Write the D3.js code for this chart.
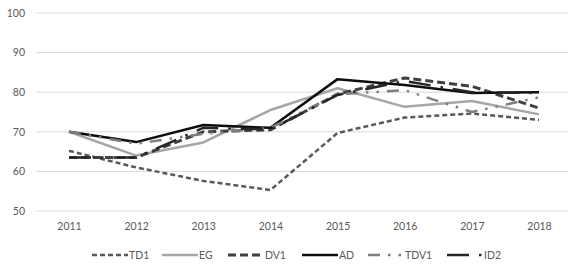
<!DOCTYPE html>
<html>
<head>
<meta charset="utf-8">
<script src="https://cdn.jsdelivr.net/npm/d3@7"></script>
<style>
  body { margin: 0; background: #fff; }
  svg { display: block; font-family: Lato, "Liberation Sans", sans-serif; }
</style>
</head>
<body>
<div id="chart"></div>
<script>
var years = ["2011", "2012", "2013", "2014", "2015", "2016", "2017", "2018"];
var yTicks = [50, 60, 70, 80, 90, 100];

var td1  = [65.2, 61.0, 57.6, 55.3, 69.7, 73.6, 74.6, 73.0];
var eg   = [70.0, 64.0, 67.3, 75.5, 81.0, 76.3, 77.8, 74.4];
var dv1  = [63.5, 63.5, 70.0, 70.5, 79.5, 83.6, 81.5, 76.0];
var ad   = [70.0, 67.4, 71.7, 71.0, 83.3, 81.8, 79.8, 80.0];
var tdv1 = [70.0, 67.0, 69.5, 71.0, 79.5, 80.5, 75.0, 78.7];
var id2  = [63.5, 63.5, 71.0, 70.6, 79.3, 82.8, 80.0, 79.8];

var seriesNames = ["TD1", "EG", "DV1", "AD", "TDV1", "ID2"];
var seriesValues = [td1, eg, dv1, ad, tdv1, id2];

// styles per series (same order as names)
var styles = [
  {color: "#595959", width: 2.5, dash: "5,3"},
  {color: "#a6a6a6", width: 2.5, dash: null},
  {color: "#404040", width: 3,   dash: "8,4"},
  {color: "#0d0d0d", width: 2.5, dash: null},
  {color: "#7f7f7f", width: 2.5, dash: "12,8,2.5,8,2.5,8"},
  {color: "#262626", width: 2.5, dash: "22,10,2.5,10"}
];

var W = 568, H = 264;
var svg = d3.select("#chart").append("svg").attr("width", W).attr("height", H);

var x = d3.scalePoint().domain(years).range([69, 539]);
var y = d3.scaleLinear().domain([50, 100]).range([211, 13]);

// gridlines
svg.append("g").selectAll("line")
  .data(yTicks).enter().append("line")
  .attr("x1", 36).attr("x2", W)
  .attr("y1", function(d) { return y(d); })
  .attr("y2", function(d) { return y(d); })
  .attr("stroke", "#d9d9d9").attr("stroke-width", 1);

// y axis labels
var yAxis = svg.append("g").attr("transform", "translate(25,0)")
  .call(d3.axisLeft(y).tickValues(yTicks).tickSize(0).tickPadding(0));
yAxis.select(".domain").remove();
yAxis.selectAll("text").attr("fill", "#595959").style("font-size", "10.5px")
  .style("font-family", "Lato, 'Liberation Sans', sans-serif");

// x axis labels
var xAxis = svg.append("g").attr("transform", "translate(0,221)")
  .call(d3.axisBottom(x).tickSize(0).tickPadding(2));
xAxis.select(".domain").remove();
xAxis.selectAll("text").attr("fill", "#595959").style("font-size", "10.5px")
  .style("font-family", "Lato, 'Liberation Sans', sans-serif");

var line = d3.line()
  .x(function(d, i) { return x(years[i]); })
  .y(function(d) { return y(d); });

svg.append("g").selectAll("path")
  .data(seriesValues).enter().append("path")
  .attr("d", line)
  .attr("fill", "none")
  .attr("stroke", function(d, i) { return styles[i].color; })
  .attr("stroke-width", function(d, i) { return styles[i].width; })
  .attr("stroke-dasharray", function(d, i) { return styles[i].dash; })
  .attr("stroke-linejoin", "round");

// legend
var legendX = [92, 162, 228, 302, 368, 447];
var legend = svg.append("g").selectAll("g")
  .data(seriesNames).enter().append("g")
  .attr("transform", function(d, i) { return "translate(" + legendX[i] + ",255)"; });
legend.append("line")
  .attr("x1", 0).attr("x2", 36).attr("y1", 0).attr("y2", 0)
  .attr("stroke", function(d, i) { return styles[i].color; })
  .attr("stroke-width", function(d, i) { return styles[i].width; })
  .attr("stroke-dasharray", function(d, i) { return styles[i].dash; });
legend.append("text")
  .attr("x", 37).attr("y", 3.5)
  .attr("fill", "#595959").style("font-size", "10.5px")
  .text(function(d) { return d; });
</script>
</body>
</html>
